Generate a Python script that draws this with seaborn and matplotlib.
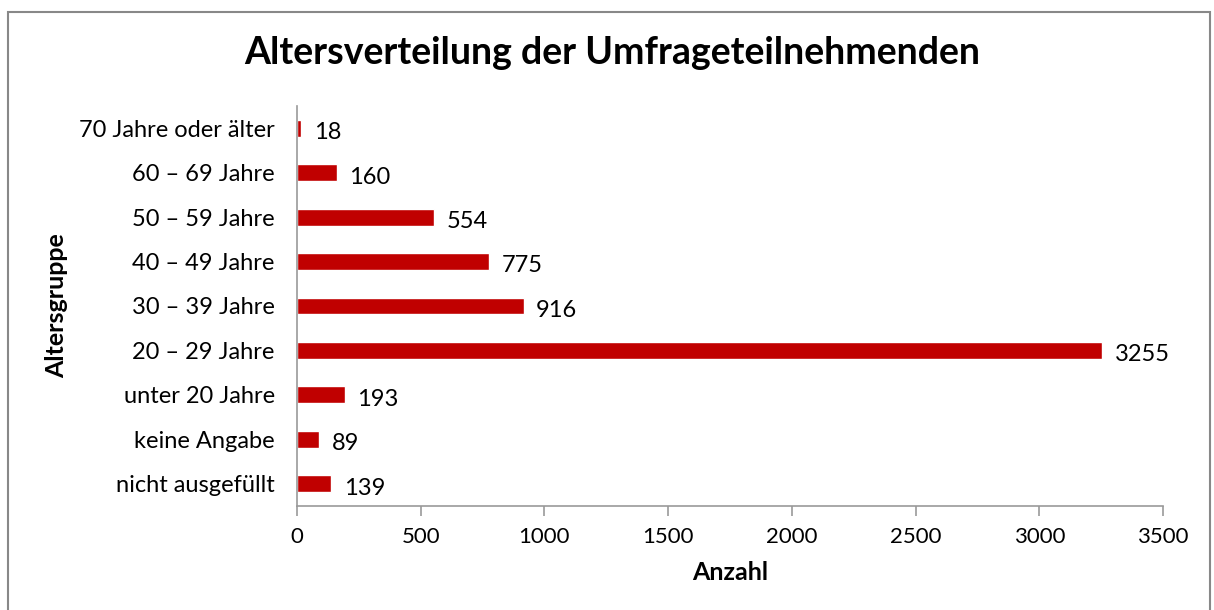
import matplotlib
matplotlib.use("Agg")
import matplotlib.pyplot as plt
import seaborn as sns
import pandas as pd
from matplotlib.patches import Rectangle

# Data (top to bottom as shown)
groups = ['70 Jahre oder älter', '60 – 69 Jahre', '50 – 59 Jahre', '40 – 49 Jahre',
          '30 – 39 Jahre', '20 – 29 Jahre', 'unter 20 Jahre', 'keine Angabe',
          'nicht ausgefüllt']
counts = [18, 160, 554, 775, 916, 3255, 193, 89, 139]

df = pd.DataFrame({'Altersgruppe': groups, 'Anzahl': counts})

sns.set_theme(style="white")
plt.rcParams['font.family'] = ['Lato', 'DejaVu Sans']
plt.rcParams.update({'text.color': 'black', 'axes.labelcolor': 'black',
                     'xtick.color': 'black', 'ytick.color': 'black'})

fig = plt.figure(figsize=(12.14, 6.10), dpi=100)
ax = fig.add_axes([297 / 1214, 1 - 506 / 610, (1163 - 297) / 1214, 400 / 610])

sns.barplot(data=df, x='Anzahl', y='Altersgruppe', order=groups, color='#C00000',
            saturation=1, width=0.38, ax=ax)

for i, v in enumerate(counts):
    ax.annotate(str(v), (v, i + 0.1), xytext=(9, 0), textcoords='offset points',
                va='center', ha='left', fontsize=17, color='black')

ax.set_xlim(0, 3500)
ax.set_xticks(range(0, 3501, 500))
ax.set_ylim(len(groups) - 0.5, -0.5)
ax.tick_params(axis='x', bottom=True, length=7, width=1.2, color='#999999',
               labelcolor='black', labelsize=16, pad=8)
ax.tick_params(axis='y', left=False, labelsize=17, pad=10)
for s in ['top', 'right']:
    ax.spines[s].set_visible(False)
for s in ['left', 'bottom']:
    ax.spines[s].set_color('#999999')
    ax.spines[s].set_linewidth(1.2)

ax.set_xlabel('Anzahl', fontsize=18, fontweight='bold', labelpad=10)
ax.set_ylabel('Altersgruppe', fontsize=18, fontweight='bold', labelpad=8)

fig.text(0.504, 1 - 53 / 610, 'Altersverteilung der Umfrageteilnehmenden',
         ha='center', va='center', fontsize=27, fontweight='bold')

fig.patches.append(Rectangle((8 / 1214, -0.01), (1210 - 8) / 1214, 1 - 12 / 610 + 0.01,
                             transform=fig.transFigure, fill=False,
                             edgecolor='#888888', linewidth=1.5))

fig.savefig('out.png', dpi=100)
